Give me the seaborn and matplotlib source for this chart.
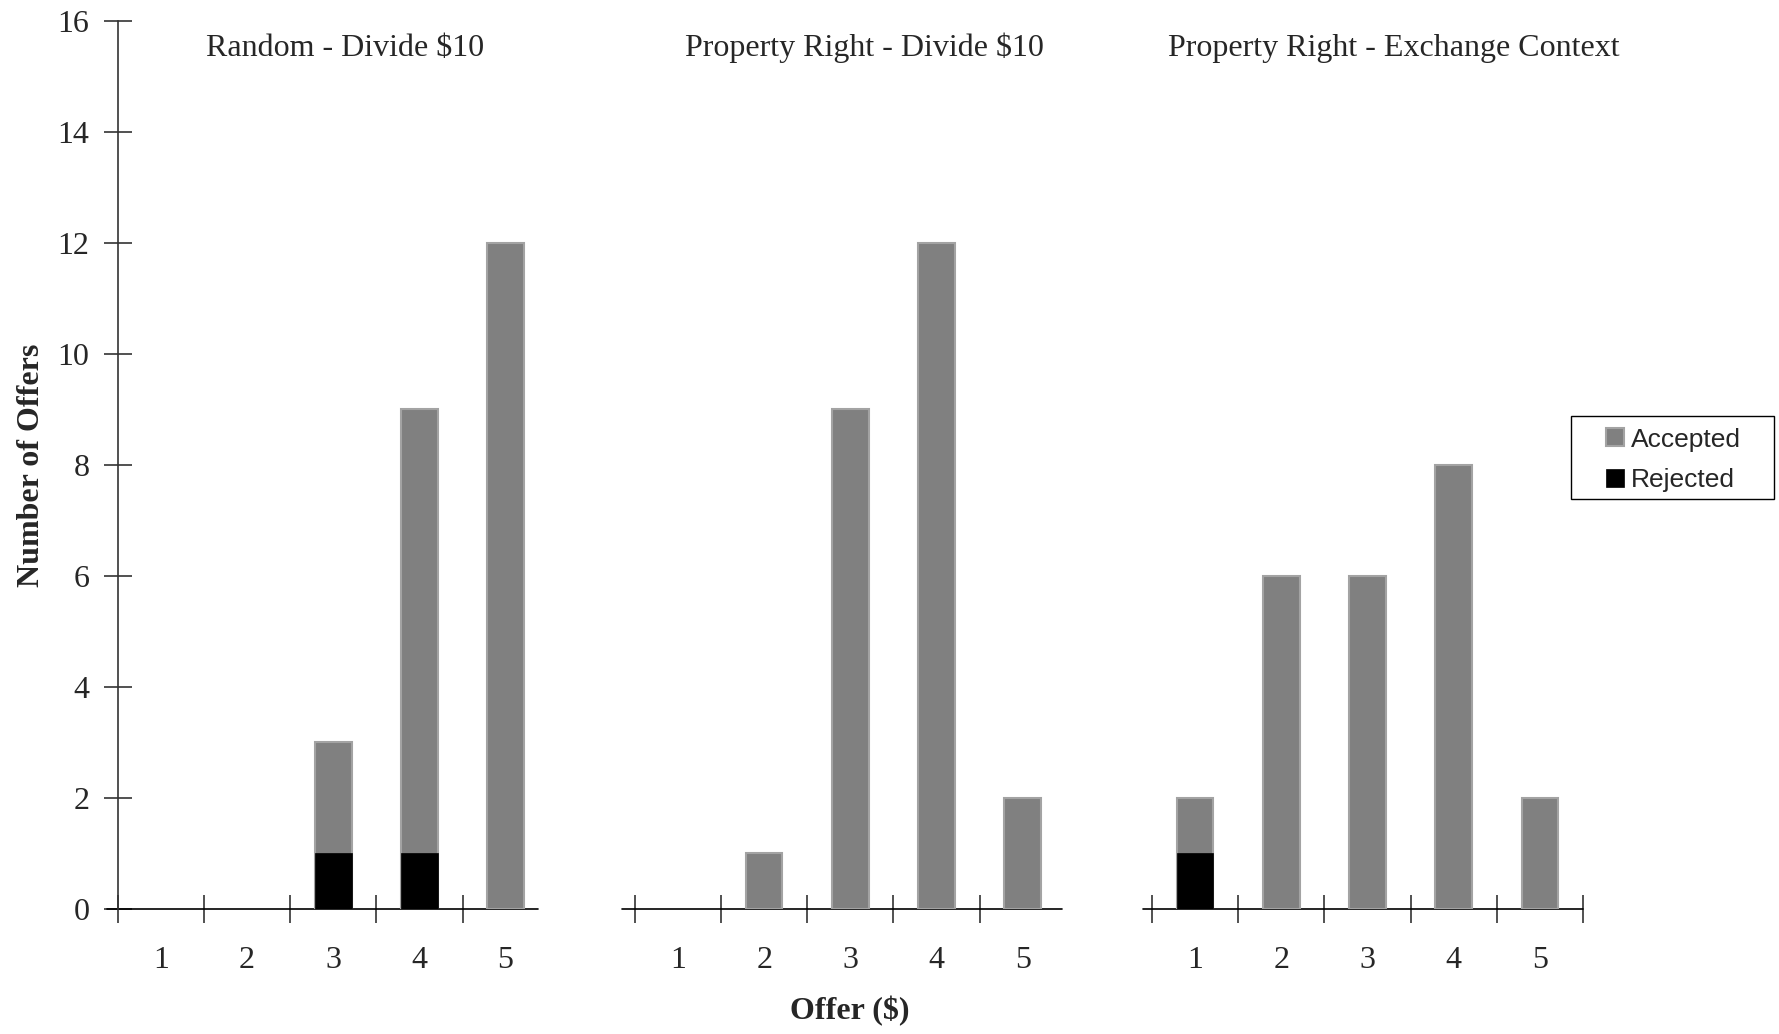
import matplotlib
matplotlib.use('Agg')
import matplotlib.pyplot as plt
from matplotlib.patches import Rectangle
import pandas as pd
import seaborn as sns
import numpy as np

# data
groups = ['Random - Divide $10', 'Property Right - Divide $10', 'Property Right - Exchange Context']
offers = [1, 2, 3, 4, 5]
accepted = [
    [0, 0, 2, 8, 12],
    [0, 1, 9, 12, 2],
    [1, 6, 6, 8, 2],
]
rejected = [
    [0, 0, 1, 1, 0],
    [0, 0, 0, 0, 0],
    [1, 0, 0, 0, 0],
]
y_ticks = [0, 2, 4, 6, 8, 10, 12, 14, 16]


def main():
    sns.set_theme(style='white')
    plt.rcParams['font.family'] = ['Liberation Serif', 'DejaVu Serif']

    rows = []
    for g, name in enumerate(groups):
        for k, off in enumerate(offers):
            rows.append({'group': name, 'offer': off, 'x': 6 * g + k,
                         'accepted': accepted[g][k], 'rejected': rejected[g][k],
                         'total': accepted[g][k] + rejected[g][k]})
    df = pd.DataFrame(rows)

    fig = plt.figure(figsize=(17.79, 10.34), dpi=100)
    ax = fig.add_axes([0.0662, 0.1209, 0.8236, 0.8588])

    tot = df[df.total > 0]
    rej = df[df.rejected > 0]
    sns.barplot(data=tot, x='x', y='total', native_scale=True, orient='x', width=0.425,
                color='#808080', saturation=1, edgecolor='#a3a3a3', linewidth=1.5,
                errorbar=None, label='Accepted', ax=ax, zorder=3)
    sns.barplot(data=rej, x='x', y='rejected', native_scale=True, orient='x', width=0.425,
                color='#000000', saturation=1, edgecolor='#000000', linewidth=0.5,
                errorbar=None, label='Rejected', ax=ax, zorder=4)
    if ax.get_legend() is not None:
        ax.get_legend().remove()

    ax.set_xlim(-0.5, 16.5)
    ax.set_ylim(0, 16)
    for s in ['top', 'right', 'bottom']:
        ax.spines[s].set_visible(False)
    ax.spines['left'].set_color('#333333')
    ax.spines['left'].set_linewidth(1.2)

    # x axis drawn in three segments, one per treatment
    for x0, x1 in [(-0.62, 4.38), (5.35, 10.45), (11.4, 16.5)]:
        ax.plot([x0, x1], [0, 0], color='black', lw=1.2, zorder=2, clip_on=False)

    bounds = [-0.5, 0.5, 1.5, 2.5, 3.5, 5.5, 6.5, 7.5, 8.5, 9.5, 11.5, 12.5, 13.5, 14.5, 15.5, 16.5]
    ax.set_xticks(bounds)
    ax.set_xticklabels([])
    ax.set_xticks(df.x.values, minor=True)
    ax.set_xticklabels([str(o) for o in df.offer], minor=True)
    ax.tick_params(axis='x', which='major', direction='inout', length=20, width=1.2,
                   color='#333333', bottom=True)
    ax.tick_params(axis='x', which='minor', length=0, pad=27, labelsize=23, bottom=True)

    ax.set_yticks(y_ticks)
    ax.tick_params(axis='y', direction='inout', length=20, width=1.2, color='#333333',
                   pad=10.5, labelsize=23, left=True)
    ax.grid(False)

    ax.set_xlabel('Offer ($)', fontsize=23, fontweight='bold')
    ax.xaxis.set_label_coords(0.4998, -0.098)
    ax.set_ylabel('Number of Offers', fontsize=23, fontweight='bold')
    ax.yaxis.set_label_coords(-0.049, 0.5)

    for g, (name, dx) in enumerate(zip(groups, [0.14, 0.16, 0.30])):
        ax.text(6 * g + 2 + dx, 15.51, name, ha='center', va='center', fontsize=23)

    # legend box (wider padding left/right than matplotlib's frame allows)
    fig.patches.append(Rectangle((1571 / 1779, 1 - 499 / 1034), 202.5 / 1779, 82.5 / 1034,
                                 transform=fig.transFigure, fill=False, edgecolor='black',
                                 linewidth=1.0, zorder=5))
    handles, labels = ax.get_legend_handles_labels()
    fig.legend(handles, labels, loc='upper left', bbox_to_anchor=(1606 / 1779, 0.5865),
               frameon=False, borderaxespad=0, borderpad=0,
               prop={'family': 'Liberation Sans', 'size': 19},
               handlelength=0.68, handleheight=0.68, handletextpad=0.25,
               labelspacing=0.64)

    fig.savefig('out.png', dpi=100)


if __name__ == '__main__':
    main()
